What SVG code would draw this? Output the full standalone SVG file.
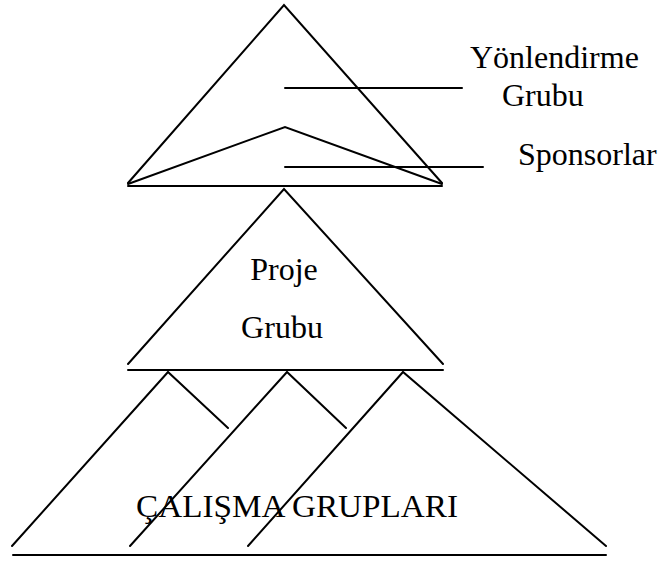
<svg xmlns="http://www.w3.org/2000/svg" width="662" height="566" viewBox="0 0 662 566">
<style>
.ln{stroke:#000;stroke-width:2;fill:none;stroke-linecap:round;stroke-linejoin:miter}
text{font-family:'Liberation Serif','DejaVu Serif',serif;font-size:32px;fill:#000}
</style>
<rect width="662" height="566" fill="#fff"/>
<g id="yonlendirme">
<polyline class="ln" points="128,183 284,5 442,183"/>
<line class="ln" x1="128" y1="186" x2="442" y2="186"/>
<text x="470" y="68">Yönlendirme</text>
<text x="502" y="106">Grubu</text>
</g>
<g id="sponsorlar">
<polyline class="ln" points="128,184 285,127 442,184"/>
<text x="518" y="165">Sponsorlar</text>
</g>
<g id="proje">
<polyline class="ln" points="128,364 284,189 443,364"/>
<line class="ln" x1="128" y1="370" x2="443" y2="370"/>
<text x="284" y="280" text-anchor="middle">Proje</text>
<text x="282" y="338" text-anchor="middle">Grubu</text>
</g>
<g id="calisma">
<polyline class="ln" points="12,546 168,372 228,428"/>
<polyline class="ln" points="130,546 287,372 346,428"/>
<polyline class="ln" points="248,546 403,372 606,546"/>
<line class="ln" x1="13" y1="555" x2="606" y2="555"/>
<text x="136" y="517" textLength="322" lengthAdjust="spacingAndGlyphs">ÇALIŞMA GRUPLARI</text>
</g>
<g id="connectors">
<line class="ln" x1="285" y1="88" x2="462" y2="88"/>
<line class="ln" x1="285" y1="167" x2="483" y2="167"/>
</g>
</svg>
